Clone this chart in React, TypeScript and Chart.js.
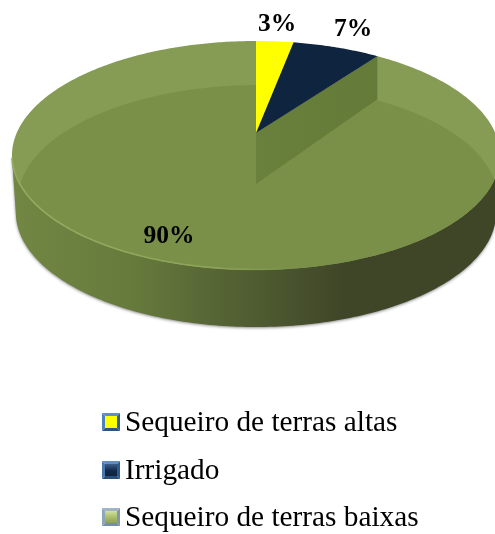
import React, { useEffect, useRef } from "react";
import { Chart, registerables } from "chart.js";

Chart.register(...registerables);

const categories = ["Sequeiro de terras altas", "Irrigado", "Sequeiro de terras baixas"];
const shares = [3, 7, 90];
const sliceColors = ["#FFFF00", "#0F243E", "#7A9049"];
const labelSpots = [[277, 23], [353, 28], [169, 234]];
const markerFrames = [
  ["#5f8fc8", "#2f5f96", "#2a5588", "#4f81bd"],
  ["#5f8ec2", "#2f5a8c", "#2a4f7c", "#4a78ac"],
  ["#9fb4c6", "#7f97a8", "#75909f", "#8fa6b6"],
];
const markerCores = [
  ["#FFFF00", "#FFFF00", "#FFFF00"],
  ["#3a5f8a", "#14294a", "#0F243E"],
  ["#d4e09f", "#a8bd68", "#8ea255"],
];

const W = 495;
const H = 534;
const CX = 256;
const APEX_Y = 133;
const TILT = -0.1965;
const SQUASH = 83.94;
const SPREAD = 239.3;
const DEPTH = 57;
const BASE_SHRINK = 0.984;

const project = (r: number, a: number): [number, number] => {
  const u = r * Math.cos(a);
  const v = r * Math.sin(a);
  const d = 1 + TILT * v;
  return [CX + (SPREAD * u) / d, (APEX_Y + SQUASH * v) / d];
};

const tracePie = (ctx: CanvasRenderingContext2D, start: number, end: number) => {
  ctx.beginPath();
  ctx.moveTo(CX, APEX_Y);
  const steps = Math.max(8, Math.ceil((end - start) * 80));
  for (let i = 0; i <= steps; i++) {
    const [x, y] = project(1, start + ((end - start) * i) / steps);
    ctx.lineTo(x, y);
  }
  ctx.closePath();
};

const piePainter = {
  id: "tiltedPie",
  beforeDatasetsDraw(chart: any) {
    const ctx: CanvasRenderingContext2D = chart.ctx;
    const arcs = chart.getDatasetMeta(0).data;
    const big = arcs[2];

    // outer wall
    ctx.save();
    const rim: [number, number][] = [];
    for (let i = 0; i <= 400; i++) rim.push(project(1, (Math.PI * 2 * i) / 400));
    const ext = rim.reduce((m, p) => (p[0] > m[0] ? p : m), rim[0]);
    const wall = rim.filter((p) => p[1] >= ext[1]).sort((p, q) => q[0] - p[0]);
    ctx.beginPath();
    wall.forEach((p, i) => {
      const x = CX + (p[0] - CX) * BASE_SHRINK;
      if (i) ctx.lineTo(x, p[1] + DEPTH);
      else ctx.moveTo(x, p[1] + DEPTH);
    });
    ctx.lineTo(wall[wall.length - 1][0], wall[wall.length - 1][1]);
    ctx.lineTo(wall[0][0], wall[0][1]);
    ctx.closePath();
    const wallGrad = ctx.createLinearGradient(12, 0, 500, 0);
    wallGrad.addColorStop(0, "#728743");
    wallGrad.addColorStop(0.25, "#667A3C");
    wallGrad.addColorStop(0.5, "#4F5B31");
    wallGrad.addColorStop(0.68, "#3F4628");
    wallGrad.addColorStop(1, "#3F4628");
    ctx.shadowColor = "rgba(0,0,0,0.45)";
    ctx.shadowBlur = 3;
    ctx.shadowOffsetX = 0;
    ctx.shadowOffsetY = 1;
    ctx.fillStyle = wallGrad;
    ctx.fill();
    ctx.restore();

    // large slice: lighter rim, then the inner face
    ctx.save();
    tracePie(ctx, big.startAngle, big.endAngle);
    ctx.fillStyle = "#869C55";
    ctx.fill();
    ctx.clip();
    ctx.beginPath();
    ctx.ellipse(258, 200, 240, 115, 0, Math.PI, Math.PI * 2);
    ctx.lineTo(520, 200);
    ctx.lineTo(520, 340);
    ctx.lineTo(-20, 340);
    ctx.lineTo(-20, 200);
    ctx.closePath();
    ctx.fillStyle = big.options.backgroundColor;
    ctx.fill();
    ctx.restore();

    // lit lower-left edge
    ctx.save();
    const edge = ctx.createLinearGradient(12, 0, 300, 0);
    edge.addColorStop(0, "rgba(148,172,96,1)");
    edge.addColorStop(0.7, "rgba(148,172,96,0.7)");
    edge.addColorStop(1, "rgba(148,172,96,0)");
    ctx.strokeStyle = edge;
    ctx.lineWidth = 1.6;
    ctx.beginPath();
    wall.forEach((p, i) => (i ? ctx.lineTo(p[0], p[1] - 0.5) : ctx.moveTo(p[0], p[1] - 0.5)));
    ctx.stroke();
    ctx.restore();

    // cut face of the large slice
    const [ex, ey] = project(1, big.startAngle);
    ctx.save();
    ctx.beginPath();
    ctx.moveTo(CX, APEX_Y);
    ctx.lineTo(ex, ey);
    ctx.lineTo(ex, ey + 43);
    ctx.lineTo(CX, APEX_Y + 51);
    ctx.closePath();
    const cut = ctx.createLinearGradient(CX, 0, ex, 0);
    cut.addColorStop(0, "#6A813D");
    cut.addColorStop(1, "#637A38");
    ctx.fillStyle = cut;
    ctx.fill();
    ctx.restore();

    // small slices
    [arcs[0], arcs[1]].forEach((arc: any) => {
      tracePie(ctx, arc.startAngle, arc.endAngle);
      ctx.fillStyle = arc.options.backgroundColor;
      ctx.fill();
    });

    // value labels
    const total = shares.reduce((a, b) => a + b, 0);
    ctx.save();
    ctx.font = "bold 25.5px 'Liberation Serif'";
    ctx.fillStyle = "#000";
    ctx.textAlign = "center";
    ctx.textBaseline = "middle";
    shares.forEach((v, i) => {
      ctx.fillText(`${Math.round((v / total) * 100)}%`, labelSpots[i][0], labelSpots[i][1] + (i === 2 ? 2 : 1));
    });
    ctx.restore();

    // legend
    ctx.save();
    ctx.font = "29.3px 'Liberation Serif'";
    ctx.textBaseline = "alphabetic";
    ctx.textAlign = "left";
    chart.data.labels.forEach((name: string, i: number) => {
      const base = 431 + i * 47.7;
      const mx = 102;
      const my = Math.round(base - 18);
      const s = 18;
      const b = 3;
      const f = markerFrames[i];
      const quads = [
        [[mx, my], [mx + s, my], [mx + s - b, my + b], [mx + b, my + b]],
        [[mx + s, my], [mx + s, my + s], [mx + s - b, my + s - b], [mx + s - b, my + b]],
        [[mx, my + s], [mx + s, my + s], [mx + s - b, my + s - b], [mx + b, my + s - b]],
        [[mx, my], [mx, my + s], [mx + b, my + s - b], [mx + b, my + b]],
      ];
      quads.forEach((q, k) => {
        ctx.beginPath();
        q.forEach((p, j) => (j ? ctx.lineTo(p[0], p[1]) : ctx.moveTo(p[0], p[1])));
        ctx.closePath();
        ctx.fillStyle = f[k];
        ctx.fill();
      });
      const core = ctx.createLinearGradient(0, my + b, 0, my + s - b);
      core.addColorStop(0, markerCores[i][0]);
      core.addColorStop(0.55, markerCores[i][1]);
      core.addColorStop(1, markerCores[i][2]);
      ctx.fillStyle = core;
      ctx.fillRect(mx + b, my + b, s - 2 * b, s - 2 * b);
      ctx.fillStyle = "#000";
      ctx.fillText(name, 125, base);
    });
    ctx.restore();
    return false;
  },
};

export default function App() {
  const ref = useRef<HTMLCanvasElement>(null);
  useEffect(() => {
    const chart = new Chart(ref.current!, {
      type: "pie",
      data: {
        labels: categories,
        datasets: [{ data: shares, backgroundColor: sliceColors, borderWidth: 0 }],
      },
      options: {
        animation: false,
        responsive: false,
        plugins: { legend: { display: false }, tooltip: { enabled: false } },
      },
      plugins: [piePainter],
    } as any);
    return () => chart.destroy();
  }, []);
  return (
    <div style={{ position: "absolute", left: 0, top: 0, width: W, height: H, background: "#fff" }}>
      <canvas ref={ref} width={W} height={H} style={{ display: "block" }} />
    </div>
  );
}
